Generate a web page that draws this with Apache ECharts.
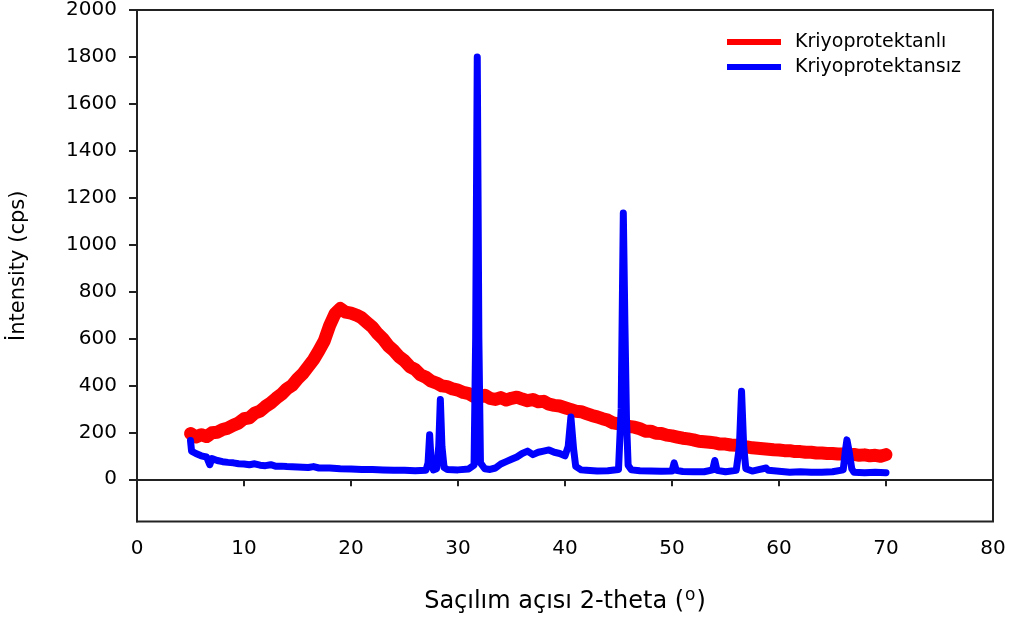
<!DOCTYPE html>
<html>
<head>
<meta charset="utf-8">
<script src="https://cdn.jsdelivr.net/npm/echarts@6/dist/echarts.min.js"></script>
<style>
  html, body { margin: 0; padding: 0; background: #fff; }
  #chart { width: 1011px; height: 619px; }
</style>
</head>
<body>
<div id="chart"></div>
<script>
// 2-theta / intensity
const redTheta = [5,5.5,6,6.5,7,7.5,8,8.5,9,9.5,10,10.5,11,11.5,12,12.5,13,13.5,14,14.5,15,15.5,16,16.5,17,17.5,18,18.5,19,19.5,20,20.5,21,21.5,22,22.5,23,23.5,24,24.5,25,25.5,26,26.5,27,27.5,28,28.5,29,29.5,30,30.5,31,31.5,32,32.5,33,33.5,34,34.5,35,35.5,36,36.5,37,37.5,38,38.5,39,39.5,40,40.5,41,41.5,42,42.5,43,43.5,44,44.5,45,45.5,46,46.5,47,47.5,48,48.5,49,49.5,50,50.5,51,51.5,52,52.5,53,53.5,54,54.5,55,55.5,56,56.5,57,57.5,58,58.5,59,59.5,60,60.5,61,61.5,62,62.5,63,63.5,64,64.5,65,65.5,66,66.5,67,67.5,68,68.5,69,69.5,70]
const redCps = [195,180,190,182,198,200,212,218,230,240,258,262,282,290,310,325,345,362,385,400,428,450,480,510,548,590,655,705,728,712,708,700,688,668,648,620,598,568,548,522,505,480,468,445,435,418,410,398,395,385,380,370,365,352,350,358,345,340,348,338,345,350,342,335,340,330,332,320,315,312,305,298,290,288,280,272,266,258,252,240,236,232,225,222,215,205,205,196,195,188,185,180,175,172,168,162,160,158,155,150,150,146,145,140,138,134,132,130,128,126,125,122,122,118,118,115,115,112,112,110,110,108,108,104,106,102,104,100,102,98,105]

const blueTheta = [5,5.1,5.5,6,6.5,6.8,7,7.5,8,8.5,9,9.5,10,10.5,11,11.5,12,12.5,13,13.5,14,15,16,16.5,17,18,19,20,21,22,23,24,25,26,27,27.2,27.35,27.5,27.7,28,28.2,28.35,28.5,28.7,29,30,31,31.5,31.65,31.8,31.95,32.1,32.5,33,33.5,34,34.5,35,35.5,36,36.5,37,37.5,38,38.5,39,39.5,40,40.3,40.55,40.8,41,41.5,42,43,44,45,45.25,45.45,45.6,45.75,45.9,46.2,47,48,49,50,50.2,50.4,51,52,53,53.8,54,54.2,55,56,56.3,56.5,56.7,56.9,57.5,58,58.8,59,60,61,62,63,64,65,66,66.2,66.35,66.55,66.8,67,68,69,70]
const blueCps = [165,120,110,100,95,62,88,80,75,72,70,66,65,62,66,60,58,62,55,56,54,52,50,54,48,48,45,44,42,42,40,38,38,36,38,70,190,70,40,45,140,340,140,50,42,40,44,60,600,1800,600,70,45,42,48,65,75,85,95,110,120,105,115,120,125,115,110,100,140,265,130,55,40,38,35,36,42,300,1135,660,250,60,40,36,35,34,35,70,38,33,32,32,40,80,38,32,38,140,375,140,45,35,40,48,38,34,30,32,30,30,32,40,120,168,120,45,30,28,30,28]

const yTicks = [0,200,400,600,800,1000,1200,1400,1600,1800,2000]

const pairs = (xs, ys) => xs.map((x, i) => [x, ys[i]])

const font = 'DejaVu Sans'
var myChart = echarts.init(document.getElementById('chart'))
var option = {
  animation: false,
  backgroundColor: '#fff',
  grid: {
    left: 136, right: 18, top: 10, bottom: 96,
    show: true, borderColor: '#222', borderWidth: 2
  },
  legend: {
    left: 722, top: 26, orient: 'vertical',
    icon: 'rect', itemWidth: 54, itemHeight: 6, itemGap: 3,
    textStyle: { fontFamily: font, fontSize: 19, color: '#000', lineHeight: 22, padding: [0, 0, 0, 9] },
    data: ['Kriyoprotektanlı', 'Kriyoprotektansız']
  },
  xAxis: {
    type: 'value', min: 0, max: 80, interval: 10,
    name: 'Saçılım açısı 2-theta ({sup|o})',
    nameLocation: 'middle', nameGap: 66,
    nameTextStyle: {
      fontFamily: font, fontSize: 24, color: '#000',
      rich: { sup: { fontFamily: font, fontSize: 17, verticalAlign: 'top', padding: [0, 1, 12, 1], color: '#000' } }
    },
    axisLine: { lineStyle: { color: '#222', width: 2 } },
    axisTick: { inside: false, length: 7, lineStyle: { color: '#222', width: 2 } },
    axisLabel: { fontFamily: font, fontSize: 20, color: '#000', margin: 17 },
    splitLine: { show: false }
  },
  yAxis: {
    type: 'value', min: -180, max: 2000,
    name: 'İntensity (cps)',
    nameLocation: 'middle', nameGap: 108, nameRotate: 90,
    nameTextStyle: { fontFamily: font, fontSize: 21, color: '#000' },
    axisLine: { lineStyle: { color: '#222', width: 2 } },
    axisTick: { inside: false, length: 8, customValues: yTicks, lineStyle: { color: '#222', width: 2 } },
    axisLabel: { fontFamily: font, fontSize: 20, color: '#000', margin: 20, customValues: yTicks, formatter: (v) => String(v) },
    splitLine: { show: false }
  },
  series: [
    {
      name: 'Kriyoprotektanlı', type: 'line', showSymbol: false,
      data: pairs(redTheta, redCps),
      color: '#ff0000',
      lineStyle: { color: '#ff0000', width: 13, join: 'round', cap: 'round' }
    },
    {
      name: 'Kriyoprotektansız', type: 'line', showSymbol: false,
      data: pairs(blueTheta, blueCps),
      color: '#0000ff',
      lineStyle: { color: '#0000ff', width: 7, join: 'round', cap: 'round' }
    }
  ]
}
myChart.setOption(option)
</script>
</body>
</html>
